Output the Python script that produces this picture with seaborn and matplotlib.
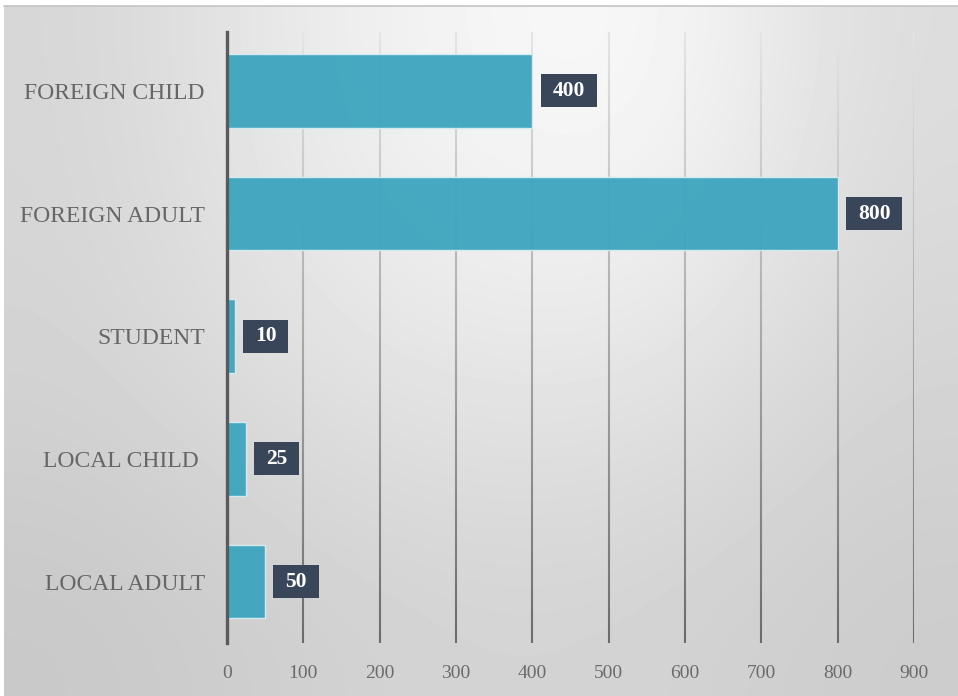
import numpy as np
import pandas as pd
import matplotlib
matplotlib.use("Agg")
import matplotlib.pyplot as plt
from matplotlib.collections import LineCollection
import seaborn as sns

# Ticket prices by visitor type
categories = ["FOREIGN CHILD", "FOREIGN ADULT", "STUDENT", "LOCAL CHILD ", "LOCAL ADULT"]
prices = [400, 800, 10, 25, 50]
x_ticks = [0, 100, 200, 300, 400, 500, 600, 700, 800, 900]

df = pd.DataFrame({"category": categories, "price": prices})

sns.set_theme(style="white")
plt.rcParams["font.family"] = ["Liberation Serif", "DejaVu Serif"]

W, H = 958, 696
fig = plt.figure(figsize=(W / 100, H / 100), dpi=100)
fig.patch.set_facecolor("white")

# soft grey backdrop, brightest near the upper middle
bg = fig.add_axes([4 / W, 0, 1 - 4 / W, 1 - 6 / H], zorder=-10)
grid_vals = np.array([
    [214, 234, 247, 249, 220],
    [212, 226, 233, 231, 213],
    [200, 207, 212, 210, 204],
]) / 255.0
bg.imshow(grid_vals, cmap="gray", vmin=0, vmax=1, aspect="auto",
          interpolation="bicubic", extent=[0, 1, 0, 1])
bg.set_axis_off()
fig.add_artist(plt.Line2D([4 / W, 1], [1 - 5.5 / H, 1 - 5.5 / H],
                          color="#c4c4c4", lw=1.2, transform=fig.transFigure))

ax = fig.add_axes([227 / W, 1 - 643 / H, (914 - 227) / W, (643 - 32) / H])
ax.set_facecolor("none")

sns.barplot(data=df, y="category", x="price", orient="h", ax=ax,
            color="#3fa6bf", width=0.6, saturation=1,
            edgecolor="#d6edf2", linewidth=1.0, alpha=0.96, zorder=3)

ax.set_xlim(0, 900)
ax.set_ylim(4.5, -0.48)
ax.set_xticks(x_ticks)
ax.set_xlabel("")
ax.set_ylabel("")

# vertical gridlines fading from light at the top to dark at the bottom
n = 80
ys = np.linspace(1, 0, n + 1)
cmap = matplotlib.colors.LinearSegmentedColormap.from_list(
    "g", ["#e4e4e4", "#a9a9a9", "#6c6c6c"])
for xv in x_ticks[1:]:
    segs = [[(xv, ys[i]), (xv, ys[i + 1])] for i in range(n)]
    cols = [cmap(i / (n - 1)) for i in range(n)]
    lc = LineCollection(segs, colors=cols, linewidths=1.5,
                        transform=ax.get_xaxis_transform(), zorder=1)
    ax.add_collection(lc)

for side in ["top", "right", "bottom"]:
    ax.spines[side].set_visible(False)
ax.spines["left"].set_color("#5a5a5a")
ax.spines["left"].set_linewidth(2.4)
ax.spines["left"].set_zorder(4)

ax.tick_params(axis="x", length=0, pad=16, labelsize=14, labelcolor="#6b6b6b")
ax.tick_params(axis="y", length=0, pad=16, labelsize=17, labelcolor="#666666")

# value labels in dark boxes beside each bar
for i, v in enumerate(prices):
    ax.annotate(f"{v}", xy=(v, i), xytext=(14.5, 0), textcoords="offset points",
                ha="left", va="center", color="white", fontsize=15.5,
                fontweight="bold", zorder=5,
                bbox=dict(boxstyle="square,pad=0.55", facecolor="#39465a",
                          edgecolor="none", mutation_aspect=0.55))

fig.savefig("out.png", dpi=100)
